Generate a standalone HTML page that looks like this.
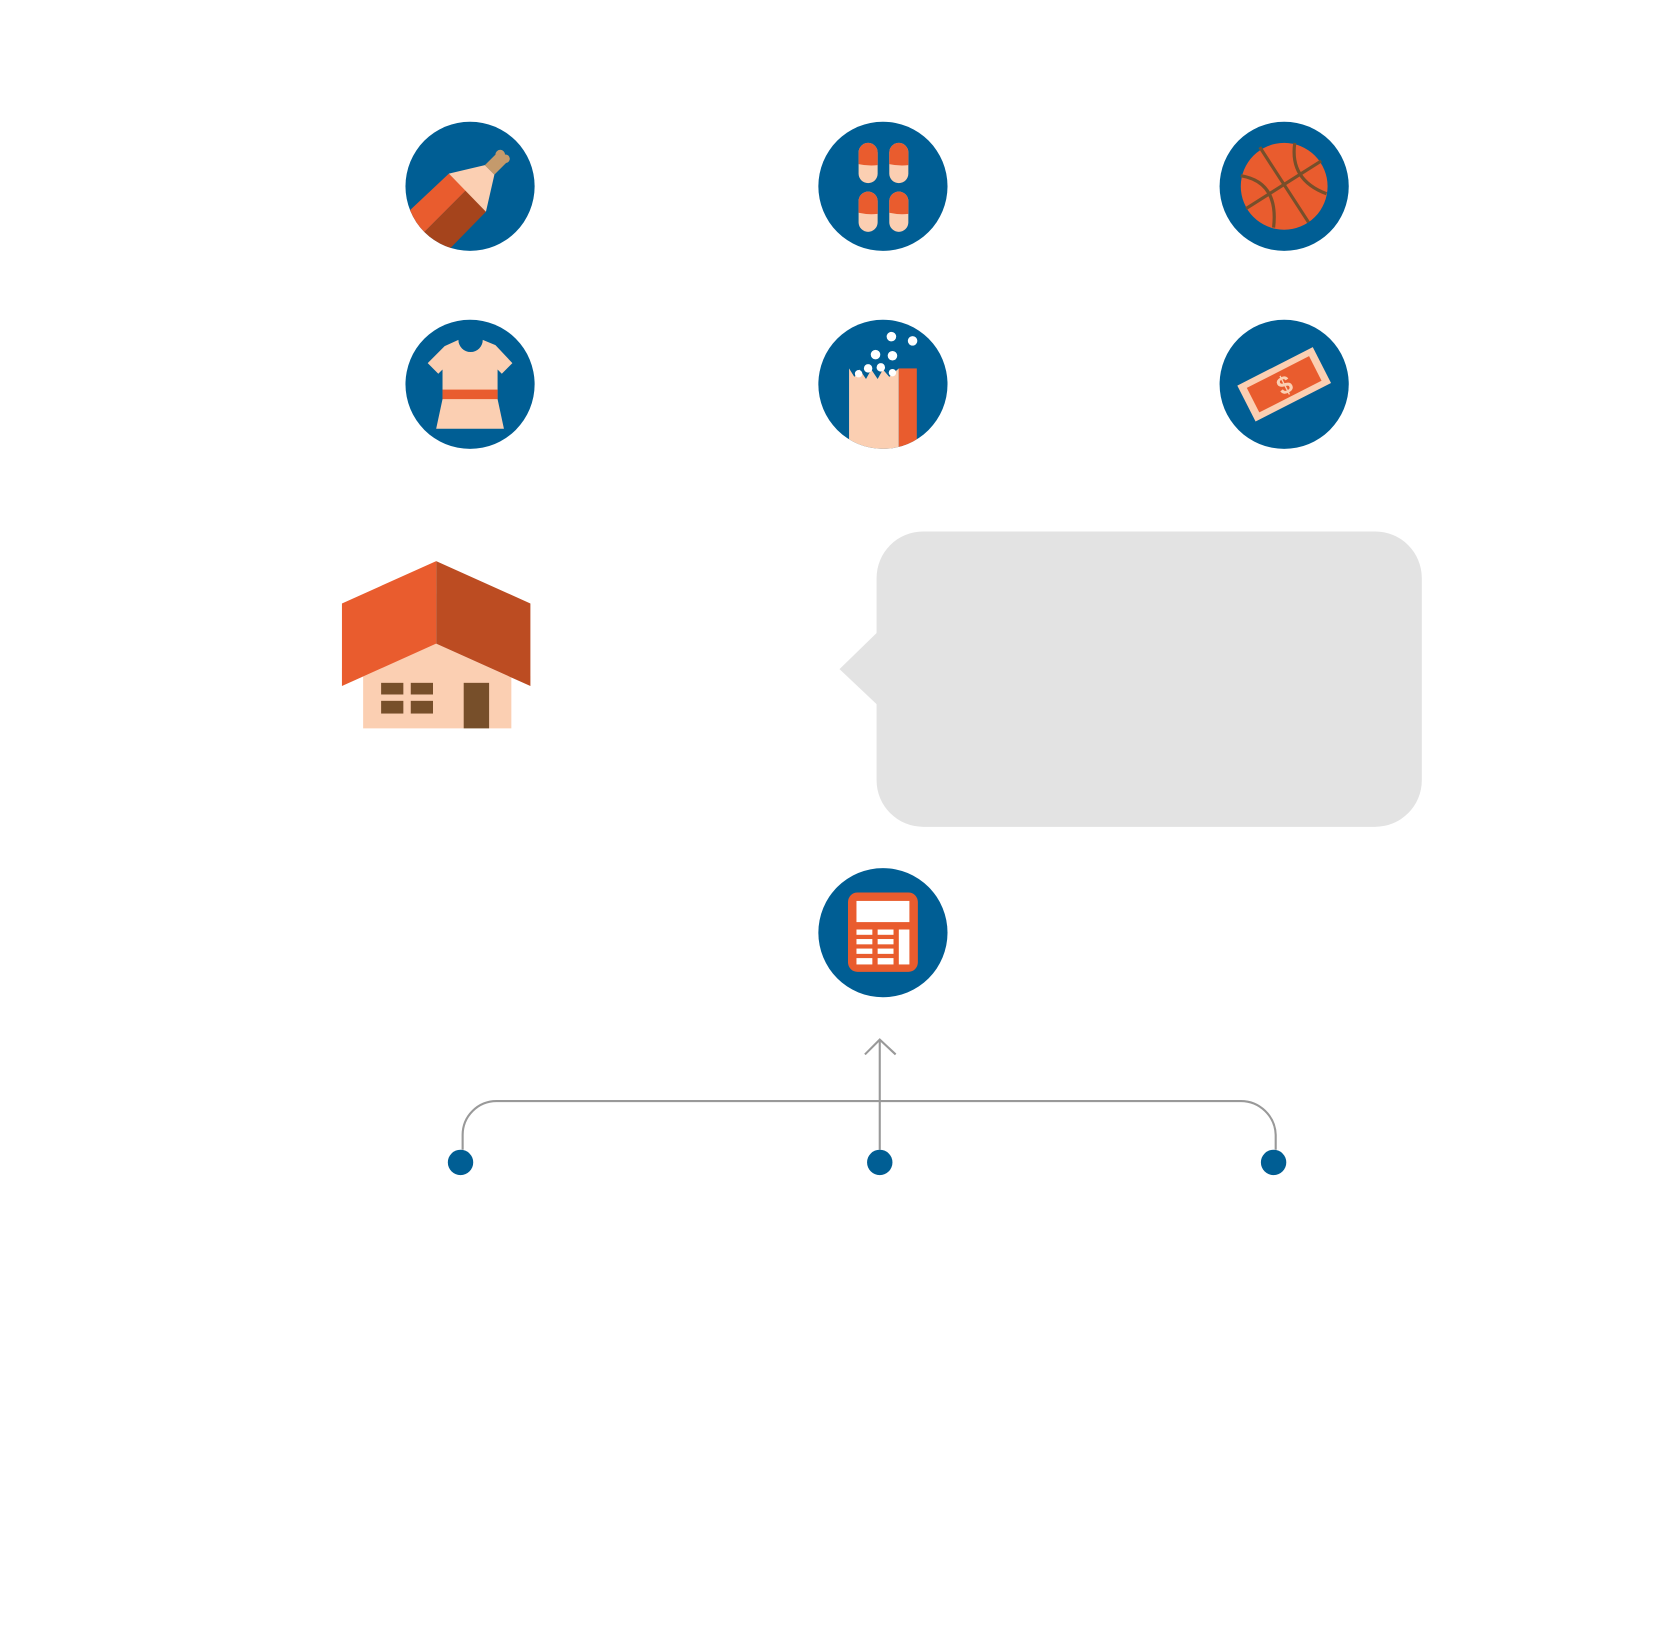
<!DOCTYPE html>
<html><head><meta charset="utf-8"><style>html,body{margin:0;padding:0;background:#fff}svg{display:block}</style></head>
<body>
<svg width="1660" height="1642" viewBox="0 0 1568 1551" preserveAspectRatio="none" xmlns="http://www.w3.org/2000/svg">
<defs>
<clipPath id="c1"><circle cx="444" cy="176" r="61"/></clipPath>
<clipPath id="c5"><circle cx="834" cy="363" r="61"/></clipPath>
</defs>
<circle cx="444" cy="176" r="61" fill="#005e94"/>
<g clip-path="url(#c1)">
<polygon points="424,164 440,180 395,225 375,210" fill="#e95c2e"/>
<polygon points="440,180 459,200 415,245 395,225" fill="#a5441c"/>
<polygon points="424,164 458,156 467,165 459,200" fill="#fbcfb2"/>
<path d="M458,156 L468,146 a4,4 0 0 1 9,0 a4,4 0 0 1 1,8 L467,165Z" fill="#c49a6c"/>
</g>
<circle cx="834" cy="176" r="61" fill="#005e94"/>
<g>
<rect x="811" y="135" width="18" height="38" rx="9" fill="#fbcfb2"/>
<path d="M811,155 V144 a9,9 0 0 1 18,0 V156 Q820,157 811,155Z" fill="#e95c2e"/>
<rect x="840" y="135" width="18" height="38" rx="9" fill="#fbcfb2"/>
<path d="M840,155 V144 a9,9 0 0 1 18,0 V156 Q849,157 840,155Z" fill="#e95c2e"/>
<rect x="811" y="181" width="18" height="38" rx="9" fill="#fbcfb2"/>
<path d="M811,201 V190 a9,9 0 0 1 18,0 V202 Q820,203 811,201Z" fill="#e95c2e"/>
<rect x="840" y="181" width="18" height="38" rx="9" fill="#fbcfb2"/>
<path d="M840,201 V190 a9,9 0 0 1 18,0 V202 Q849,203 840,201Z" fill="#e95c2e"/>
</g>
<circle cx="1213" cy="176" r="61" fill="#005e94"/>
<circle cx="1213" cy="176" r="41" fill="#e95c2e"/>
<g stroke="#774f2a" stroke-width="3" fill="none">
<line x1="1190" y1="139" x2="1236" y2="210"/>
<line x1="1177" y1="197" x2="1248" y2="152"/>
<path d="M1223,135 Q1218,170 1253,183"/>
<path d="M1172,166 Q1208,172 1203,215"/>
</g>
<circle cx="444" cy="363" r="61" fill="#005e94"/>
<path d="M433,321 a11,11 0 0 0 23,0 L468,326 L484,343 L474,353 L470,349 V377 L476,405 H412 L418,377 V349 L414,353 L404,343 L420,327 Z" fill="#fbcfb2"/>
<rect x="418" y="368" width="52" height="9" fill="#e95c2e"/>
<circle cx="834" cy="363" r="61" fill="#005e94"/>
<g clip-path="url(#c5)">
<polygon points="802,348 807,356 812,349 818,358 823,349 829,358 834,349 840,356 849,348 849,430 802,430" fill="#fbcfb2"/>
<rect x="849" y="348" width="17" height="82" fill="#e95c2e"/>
</g>
<g fill="#fff">
<circle cx="842" cy="318" r="4.5"/><circle cx="862" cy="322" r="4.5"/>
<circle cx="827" cy="335" r="4.5"/><circle cx="843" cy="336" r="4.5"/>
<circle cx="820" cy="348" r="4"/><circle cx="832" cy="347" r="4"/><circle cx="811" cy="353" r="3.5"/><circle cx="843" cy="352" r="3.5"/>
</g>
<circle cx="1213" cy="363" r="61" fill="#005e94"/>
<g transform="translate(1213,363) rotate(-27)">
<rect x="-40" y="-19" width="80" height="38" fill="#fbcfb2"/>
<rect x="-33" y="-13" width="66" height="26" fill="#e95c2e"/>
<text x="0" y="9" font-family="Liberation Sans, sans-serif" font-weight="bold" font-size="24" fill="#fbcfb2" text-anchor="middle">$</text>
</g>
<polygon points="343,639 412,608 483,640 483,688 343,688" fill="#fbcfb2"/>
<polygon points="323,570 412,530 412,608 323,648" fill="#e95c2e"/>
<polygon points="412,530 501,570 501,648 412,608" fill="#bc4c22"/>
<g fill="#774f2a">
<rect x="360" y="645" width="21" height="11"/><rect x="388" y="645" width="21" height="11"/>
<rect x="360" y="662" width="21" height="12"/><rect x="388" y="662" width="21" height="12"/>
<rect x="438" y="645" width="24" height="43"/>
</g>
<rect x="828" y="502" width="515" height="279" rx="44" fill="#e3e3e3"/>
<polygon points="829,597 793,632 829,666" fill="#e3e3e3"/>
<circle cx="834" cy="881" r="61" fill="#005e94"/>
<rect x="801" y="843" width="66" height="75" rx="9" fill="#e95c2e"/>
<rect x="809" y="851" width="50" height="20" fill="#fff"/>
<g fill="#fff">
<rect x="809" y="878" width="15" height="5"/><rect x="829" y="878" width="15" height="5"/>
<rect x="809" y="887" width="15" height="5"/><rect x="829" y="887" width="15" height="5"/>
<rect x="809" y="896" width="15" height="5"/><rect x="829" y="896" width="15" height="5"/>
<rect x="809" y="905" width="15" height="6"/><rect x="829" y="905" width="15" height="6"/>
<rect x="849" y="878" width="10" height="33"/>
</g>
<g stroke="#999" stroke-width="2" fill="none">
<line x1="831" y1="1086" x2="831" y2="982"/>
<polyline points="817,996 831,982 846,996"/>
<path d="M437,1086 V1072 a32,32 0 0 1 32,-32 H1172 a33,33 0 0 1 33,32 V1086"/>
</g>
<g fill="#005e94">
<circle cx="435" cy="1098" r="12"/><circle cx="831" cy="1098" r="12"/><circle cx="1203" cy="1098" r="12"/>
</g>
</svg>
</body></html>
